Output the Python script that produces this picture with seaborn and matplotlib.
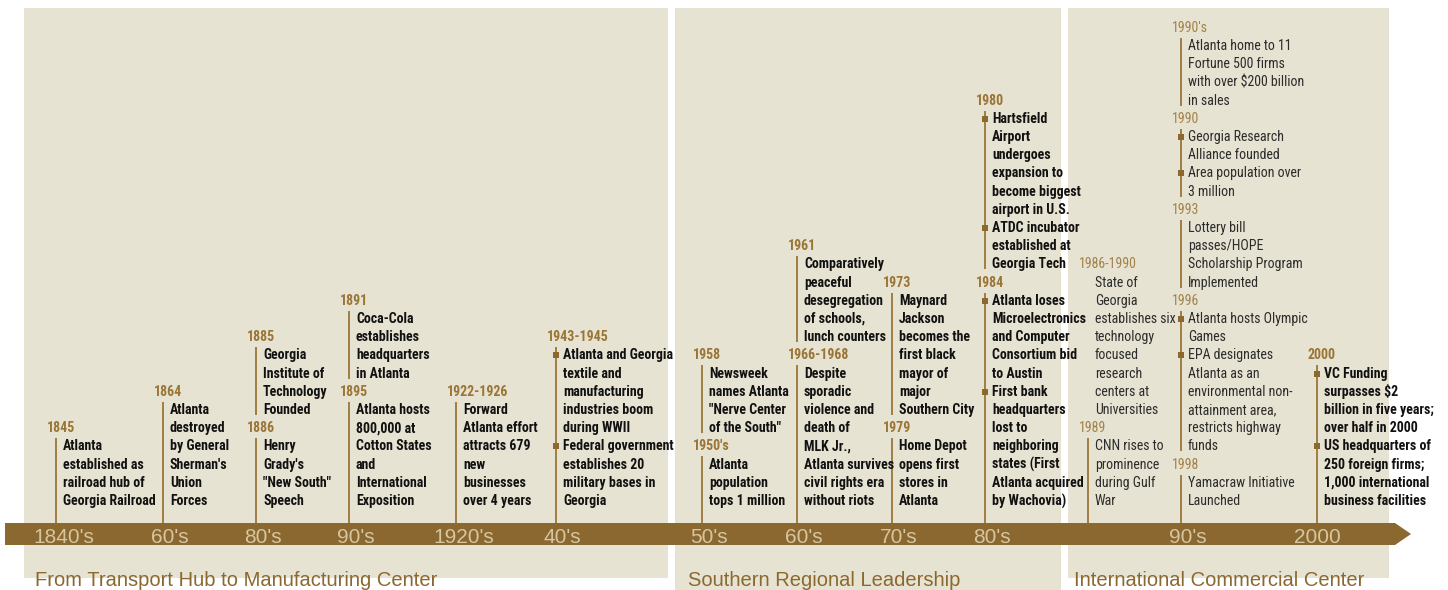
import matplotlib
matplotlib.use("Agg")
import matplotlib.pyplot as plt
import seaborn as sns
import pandas as pd
from matplotlib import font_manager

# ---- data ---------------------------------------------------------------
decade_labels = ["1840's", "60's", "80's", "90's", "1920's", "40's",
                 "50's", "60's", "70's", "80's", "90's", "2000"]
decade_column = [0, 1, 2, 3, 4, 5, 6, 7, 8, 9, 11, 12]

era_titles = ["From Transport Hub to Manufacturing Center",
              "Southern Regional Leadership",
              "International Commercial Center"]

# events listed top to bottom inside each column
event_years = ["1845", "1864", "1885", "1886", "1891", "1895", "1922-1926",
               "1943-1945", "1958", "1950's", "1961", "1966-1968", "1973",
               "1979", "1980", "1984", "1986-1990", "1989", "1990's", "1990",
               "1993", "1996", "1998", "2000"]
event_column = [0, 1, 2, 2, 3, 3, 4, 5, 6, 6, 7, 7, 8, 8, 9, 9, 10, 10,
                11, 11, 11, 11, 11, 12]
event_items = [
    [["Atlanta", "established as", "railroad hub of", "Georgia Railroad"]],
    [["Atlanta", "destroyed", "by General", "Sherman's", "Union", "Forces"]],
    [["Georgia", "Institute of", "Technology", "Founded"]],
    [["Henry", "Grady's", "\"New South\"", "Speech"]],
    [["Coca-Cola", "establishes", "headquarters", "in Atlanta"]],
    [["Atlanta hosts", "800,000 at", "Cotton States", "and", "International",
      "Exposition"]],
    [["Forward", "Atlanta effort", "attracts 679", "new", "businesses",
      "over 4 years"]],
    [["Atlanta and Georgia", "textile and", "manufacturing", "industries boom",
      "during WWII"],
     ["Federal government", "establishes 20", "military bases in", "Georgia"]],
    [["Newsweek", "names Atlanta", "\"Nerve Center", "of the South\""]],
    [["Atlanta", "population", "tops 1 million"]],
    [["Comparatively", "peaceful", "desegregation", "of schools,",
      "lunch counters"]],
    [["Despite", "sporadic", "violence and", "death of", "MLK Jr.,",
      "Atlanta survives", "civil rights era", "without riots"]],
    [["Maynard", "Jackson", "becomes the", "first black", "mayor of", "major",
      "Southern City"]],
    [["Home Depot", "opens first", "stores in", "Atlanta"]],
    [["Hartsfield", "Airport", "undergoes", "expansion to", "become biggest",
      "airport in U.S."],
     ["ATDC incubator", "established at", "Georgia Tech"]],
    [["Atlanta loses", "Microelectronics", "and Computer", "Consortium bid",
      "to Austin"],
     ["First bank", "headquarters", "lost to", "neighboring", "states (First",
      "Atlanta acquired", "by Wachovia)"]],
    [["State of", "Georgia", "establishes six", "technology", "focused",
      "research", "centers at", "Universities"]],
    [["CNN rises to", "prominence", "during Gulf", "War"]],
    [["Atlanta home to 11", "Fortune 500 firms", "with over $200 billion",
      "in sales"]],
    [["Georgia Research", "Alliance founded"],
     ["Area population over", "3 million"]],
    [["Lottery bill", "passes/HOPE", "Scholarship Program", "Implemented"]],
    [["Atlanta hosts Olympic", "Games"],
     ["EPA designates", "Atlanta as an", "environmental non-",
      "attainment area,", "restricts highway", "funds"]],
    [["Yamacraw Initiative", "Launched"]],
    [["VC Funding", "surpasses $2", "billion in five years;",
      "over half in 2000"],
     ["US headquarters of", "250 foreign firms;", "1,000 international",
      "business facilities"]],
]

# ---- layout / style -----------------------------------------------------
W, H = 1448, 590
column_x = [56, 163, 256, 349, 456, 556, 702, 797, 892, 985, 1088, 1181, 1317]
panel_span = [(24, 668, 578), (675, 1061, 590), (1068, 1389, 578)]
title_x = [35, 688, 1074]
light_columns = {10, 11}
no_stem = {"1986-1990"}
LINE = 18.2
BASE = 501
BAR_TOP, BAR_BOT, BAR_LEFT, BAR_END, TIP = 523, 545, 5, 1395, 1411

PANEL = "#E7E3D2"
BROWN = "#8B6830"
YEAR = "#9A7536"
YEAR_LIGHT = "#A2824A"
DECADE = "#D5C6A1"

sns.set_theme(style="white")
names = {f.name for f in font_manager.fontManager.ttflist}
NARROW = next((n for n in ["Liberation Sans Narrow", "Roboto Condensed",
                           "DejaVu Sans Condensed"] if n in names),
              "Liberation Sans")
plt.rcParams["font.family"] = [NARROW, "DejaVu Sans"]

fig = plt.figure(figsize=(W / 100, H / 100), dpi=100)
ax = fig.add_axes([0, 0, 1, 1])

for (x0, x1, yb) in panel_span:
    ax.fill([x0, x1, x1, x0], [8, 8, yb, yb], color=PANEL, lw=0, zorder=0)

ax.fill([BAR_LEFT, BAR_END, TIP, BAR_END, BAR_LEFT],
        [BAR_TOP, BAR_TOP, (BAR_TOP + BAR_BOT) / 2, BAR_BOT, BAR_BOT],
        color=BROWN, lw=0, zorder=1)

# stack every column upward from the bar
stems, bullets = [], []
for col in range(len(column_x)):
    idx = [i for i, c in enumerate(event_column) if c == col]
    k = 0
    for n_ev, i in enumerate(reversed(idx)):
        items = event_items[i]
        n = sum(len(it) for it in items)
        x = column_x[col]
        light = col in light_columns
        y_year = BASE - (k + n) * LINE
        ax.text(x - 9, y_year, event_years[i], ha="left", va="center",
                fontsize=10, color=YEAR_LIGHT if light else YEAR,
                fontweight="normal" if light else "bold", zorder=3)
        row = k + n - 1
        for item in items:
            if len(items) > 1:
                bullets.append({"x": x, "y": BASE - row * LINE})
            for line in item:
                ax.text(x + 7, BASE - row * LINE, line, ha="left", va="center",
                        fontsize=10, color="#2b2b2b" if light else "#111111",
                        fontweight="normal" if light else "bold", zorder=3)
                row -= 1
        if event_years[i] not in no_stem:
            y_end = BAR_TOP if n_ev == 0 else BASE - k * LINE + 5
            stems.append({"x": x, "y0": y_year + 10, "y1": y_end})
        k += n + 1

st = pd.DataFrame(stems)
ax.vlines(st["x"], st["y0"], st["y1"], color=YEAR, lw=1.3, zorder=2)
bl = pd.DataFrame(bullets)
sns.scatterplot(data=bl, x="x", y="y", marker="s", s=16, color=BROWN,
                edgecolor=None, linewidth=0, legend=False, ax=ax, zorder=4)

for lab, col in zip(decade_labels, decade_column):
    digits = sum(ch.isdigit() for ch in lab)
    ax.text(column_x[col] - 12 - 5.5 * (digits - 2), 543, lab, ha="left",
            va="baseline", fontsize=15, color=DECADE,
            family=["Liberation Sans", "DejaVu Sans"], zorder=3)

for t, x in zip(era_titles, title_x):
    ax.text(x, 586, t, ha="left", va="baseline", fontsize=14.5, color=BROWN,
            family=["Liberation Sans", "DejaVu Sans"], zorder=3)

ax.set_xlim(0, W)
ax.set_ylim(H, 0)
ax.axis("off")
fig.savefig("out.png", dpi=100, facecolor="white")
print(NARROW)
